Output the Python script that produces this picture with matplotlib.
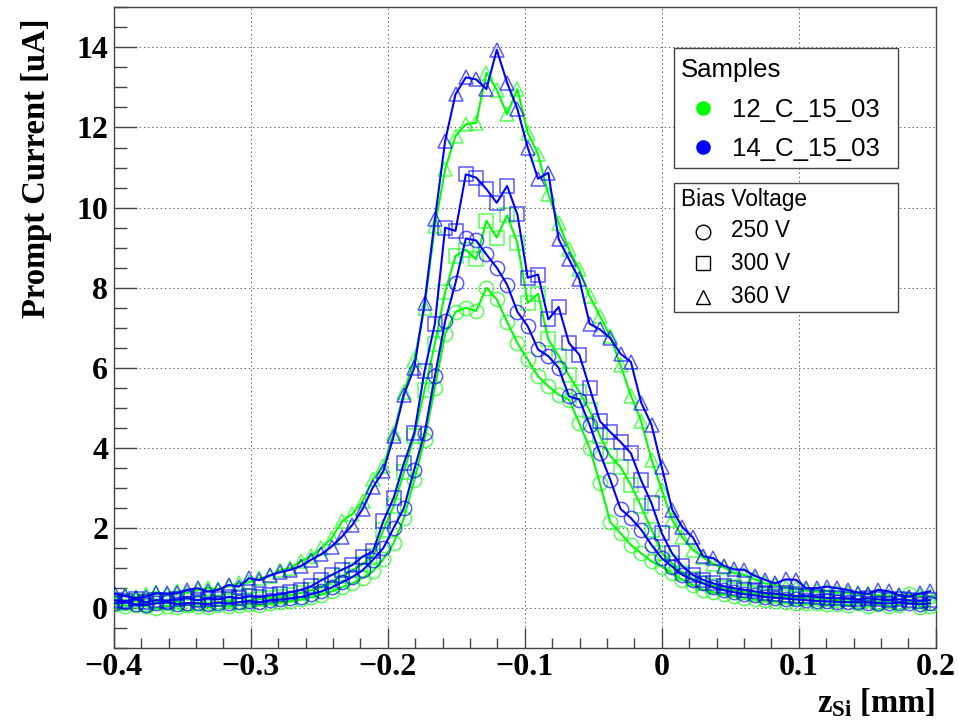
import numpy as np
import matplotlib
matplotlib.use("Agg")
import matplotlib.pyplot as plt
from matplotlib.lines import Line2D
from matplotlib.patches import Rectangle
from matplotlib.ticker import MultipleLocator, FuncFormatter

plt.rcParams['mathtext.fontset'] = 'custom'
plt.rcParams['mathtext.rm'] = 'Liberation Serif:bold'
plt.rcParams['mathtext.bf'] = 'Liberation Serif:bold'
plt.rcParams['mathtext.it'] = 'Liberation Serif:bold'

# scan positions (z in silicon, mm)
z_start = -0.399
z_step = 0.00753
n_pts = 80
z = z_start + z_step * np.arange(n_pts)

# prompt current [uA]
g250 = [0.10, 0.06, 0.08, 0.05, 0.00, 0.06, 0.04, 0.08, 0.05, 0.03,
        0.07, 0.05, 0.08, 0.10, 0.08, 0.12, 0.15, 0.18, 0.22, 0.28,
        0.34, 0.42, 0.52, 0.62, 0.76, 0.92, 1.22, 1.62, 2.25, 3.20,
        4.20, 5.50, 6.85, 7.40, 7.50, 7.42, 8.00, 7.71, 7.15, 6.62,
        6.21, 5.79, 5.54, 5.33, 5.21, 4.62, 4.00, 3.12, 2.15, 1.87,
        1.58, 1.37, 1.17, 1.04, 0.87, 0.71, 0.58, 0.46, 0.40, 0.35,
        0.30, 0.26, 0.22, 0.20, 0.18, 0.15, 0.14, 0.12, 0.12, 0.10,
        0.10, 0.08, 0.12, 0.06, 0.10, 0.05, 0.08, 0.35, 0.04, 0.06]
g300 = [0.15, 0.12, 0.18, 0.10, 0.15, 0.12, 0.16, 0.10, 0.14, 0.12,
        0.15, 0.18, 0.15, 0.20, 0.22, 0.25, 0.28, 0.32, 0.38, 0.45,
        0.55, 0.65, 0.80, 0.95, 1.10, 1.30, 1.95, 2.55, 3.40, 4.30,
        5.45, 6.60, 7.90, 8.79, 8.95, 8.71, 9.67, 9.25, 9.81, 9.12,
        7.62, 7.85, 6.71, 6.30, 5.81, 5.40, 4.94, 4.30, 3.80, 3.52,
        3.08, 2.54, 1.96, 1.38, 1.12, 0.88, 0.74, 0.64, 0.56, 0.50,
        0.45, 0.40, 0.36, 0.33, 0.30, 0.28, 0.26, 0.25, 0.24, 0.22,
        0.20, 0.22, 0.18, 0.20, 0.16, 0.18, 0.15, 0.17, 0.15, 0.14]
g360 = [0.25, 0.32, 0.28, 0.35, 0.40, 0.33, 0.42, 0.38, 0.45, 0.50,
        0.48, 0.55, 0.62, 0.65, 0.75, 0.80, 0.95, 1.00, 1.17, 1.30,
        1.50, 1.75, 2.17, 2.35, 2.67, 3.22, 3.54, 4.37, 5.40, 6.20,
        7.50, 9.54, 10.96, 11.79, 12.08, 12.12, 13.37, 12.94, 12.33, 12.96,
        11.87, 11.33, 10.33, 9.62, 8.96, 8.46, 7.79, 7.29, 6.79, 6.06,
        5.31, 4.67, 3.71, 2.95, 2.21, 1.77, 1.46, 1.27, 1.10, 1.02,
        0.88, 0.83, 0.72, 0.62, 0.58, 0.52, 0.50, 0.45, 0.42, 0.44,
        0.40, 0.38, 0.36, 0.35, 0.32, 0.30, 0.33, 0.28, 0.30, 0.30]
b250 = [0.12, 0.15, 0.10, 0.08, 0.12, 0.15, 0.10, 0.13, 0.12, 0.10,
        0.14, 0.12, 0.15, 0.18, 0.15, 0.20, 0.22, 0.25, 0.28, 0.35,
        0.42, 0.52, 0.65, 0.78, 0.95, 1.21, 1.50, 2.00, 2.50, 3.46,
        4.37, 5.79, 7.17, 8.12, 9.23, 9.18, 8.83, 8.50, 8.08, 7.40,
        7.04, 6.46, 6.29, 6.00, 5.29, 5.21, 4.58, 3.87, 3.21, 2.48,
        2.25, 1.96, 1.58, 1.25, 1.04, 0.83, 0.71, 0.62, 0.52, 0.45,
        0.40, 0.35, 0.32, 0.28, 0.26, 0.24, 0.22, 0.20, 0.18, 0.17,
        0.16, 0.15, 0.15, 0.14, 0.13, 0.12, 0.14, 0.12, 0.10, 0.12]
b300 = [0.20, 0.18, 0.22, 0.15, 0.20, 0.18, 0.22, 0.25, 0.20, 0.24,
        0.22, 0.28, 0.25, 0.30, 0.28, 0.32, 0.35, 0.40, 0.46, 0.55,
        0.70, 0.83, 0.96, 1.08, 1.29, 1.42, 2.17, 2.75, 3.62, 4.37,
        5.92, 7.10, 9.50, 9.42, 10.83, 10.75, 10.46, 10.12, 10.54, 9.83,
        8.25, 8.33, 7.21, 7.52, 6.62, 6.33, 5.50, 4.67, 4.40, 4.15,
        3.87, 3.19, 2.62, 1.87, 1.37, 1.05, 0.83, 0.71, 0.62, 0.55,
        0.50, 0.46, 0.42, 0.38, 0.36, 0.33, 0.30, 0.30, 0.28, 0.26,
        0.25, 0.24, 0.22, 0.25, 0.22, 0.20, 0.22, 0.20, 0.18, 0.20]
b360 = [0.36, 0.30, 0.25, 0.29, 0.37, 0.37, 0.37, 0.46, 0.50, 0.42,
        0.46, 0.58, 0.54, 0.75, 0.70, 0.82, 0.90, 0.96, 1.05, 1.21,
        1.35, 1.54, 1.79, 2.08, 2.48, 3.02, 3.42, 4.29, 5.33, 6.00,
        7.62, 9.71, 11.67, 12.83, 13.25, 13.20, 12.96, 13.94, 13.12, 12.46,
        11.50, 10.72, 10.87, 9.21, 8.71, 8.21, 7.10, 6.96, 6.74, 6.35,
        6.15, 5.13, 4.58, 3.52, 2.46, 2.02, 1.77, 1.30, 1.25, 1.06,
        0.97, 0.96, 0.81, 0.71, 0.62, 0.72, 0.71, 0.50, 0.50, 0.54,
        0.50, 0.46, 0.39, 0.36, 0.46, 0.42, 0.33, 0.29, 0.37, 0.42]

samples = ['12_C_15_03', '14_C_15_03']
sample_colors = ['#00ff00', '#0000ff']
voltages = ['250 V', '300 V', '360 V']
voltage_markers = ['o', 's', '^']
series = [[g250, g300, g360], [b250, b300, b360]]

W, H = 958, 725
fig = plt.figure(figsize=(W / 100, H / 100), dpi=100, facecolor='white')


def fx(px):
    return px / W


def fy(py):
    return 1 - py / H


ax = fig.add_axes([fx(113.7), fy(648.3), (935.7 - 113.7) / W, (648.3 - 7.3) / H])

for s, col in enumerate(sample_colors):
    for v, mk in enumerate(voltage_markers):
        r, g, b = matplotlib.colors.to_rgb(col)
        ax.plot(z, series[s][v], color=col, lw=1.5, marker=mk, ms=10.3,
                mfc='none', mec=(r, g, b, 0.65), mew=1.1, zorder=3 + s)

ax.set_xlim(-0.4, 0.2)
ax.set_ylim(-1, 15)
ax.xaxis.set_major_locator(MultipleLocator(0.1))
ax.xaxis.set_minor_locator(MultipleLocator(0.02))
ax.xaxis.set_major_formatter(FuncFormatter(
    lambda v, p: '0' if abs(v) < 1e-9 else ('%.1f' % v).replace('-', '\u2212')))
ax.yaxis.set_minor_locator(MultipleLocator(0.5))
ax.set_yticks(np.arange(0, 15, 2))
ax.tick_params(axis='x', which='major', direction='in', length=14.4, width=1,
               color='#444444', top=False, pad=3.5)
ax.tick_params(axis='x', which='minor', direction='in', length=7.2, width=1,
               color='#444444', top=False)
ax.tick_params(axis='y', which='major', direction='in', length=16.5, width=1,
               color='#444444', right=False, pad=4)
ax.tick_params(axis='y', which='minor', direction='in', length=9, width=1,
               color='#444444', right=False)
for lab in ax.get_xticklabels() + ax.get_yticklabels():
    lab.set_fontfamily('Liberation Serif')
    lab.set_fontweight('bold')
    lab.set_fontsize(23)
for sp in ax.spines.values():
    sp.set_color('#444444')
    sp.set_linewidth(1)

ax.set_axisbelow(True)
ax.grid(True, which='major', color='#666666', lw=0.72, dashes=(1.4, 2.8))

ax.set_xlabel(r'$\mathbf{z_{Si}}$ [mm]', fontfamily='Liberation Serif',
              fontweight='bold', fontsize=23.5, loc='right')
ax.xaxis.set_label_coords(1.0, -0.06)
ax.set_ylabel('Prompt Current [uA]', fontfamily='Liberation Serif',
              fontweight='bold', fontsize=23.5, loc='top')
ax.yaxis.set_label_coords(-0.075, 0.983)

# legend boxes
sans = 'Liberation Sans'
fig.add_artist(Rectangle((fx(674), fy(168)), (898 - 674) / W, (168 - 48) / H,
                         transform=fig.transFigure, facecolor='white',
                         edgecolor='#444444', lw=1, zorder=5))
fig.text(fx(681), fy(76.7), 'Samples', fontfamily=sans, fontsize=18.5,
         va='baseline', ha='left', zorder=6)
for k, (name, col) in enumerate(zip(samples, sample_colors)):
    ym = [108.3, 147.3][k]
    yb = [117.3, 156.3][k]
    fig.add_artist(Line2D([fx(702.7)], [fy(ym)], marker='o', ms=9.5, color=col,
                          mec=col, transform=fig.transFigure, zorder=6))
    fig.text(fx(731.7), fy(yb), name, fontfamily=sans, fontsize=18.5,
             va='baseline', ha='left', zorder=6)

fig.add_artist(Rectangle((fx(674), fy(311.7)), (898 - 674) / W, (311.7 - 183.3) / H,
                         transform=fig.transFigure, facecolor='white',
                         edgecolor='#444444', lw=1, zorder=5))
fig.text(fx(681), fy(205.7), 'Bias Voltage', fontfamily=sans, fontsize=16.3,
         va='baseline', ha='left', zorder=6)
for k, (name, mk) in enumerate(zip(voltages, voltage_markers)):
    ym = [231.7, 263.3, 296.7][k]
    yb = [237.3, 270.0, 303.3][k]
    fig.add_artist(Line2D([fx(702.7)], [fy(ym)], marker=mk, ms=10.5, mfc='none',
                          mec='black', mew=1.0, transform=fig.transFigure, zorder=6))
    fig.text(fx(730.7), fy(yb), name, fontfamily=sans, fontsize=16.3,
             va='baseline', ha='left', zorder=6)

fig.savefig('out.png', dpi=100, facecolor='white')
